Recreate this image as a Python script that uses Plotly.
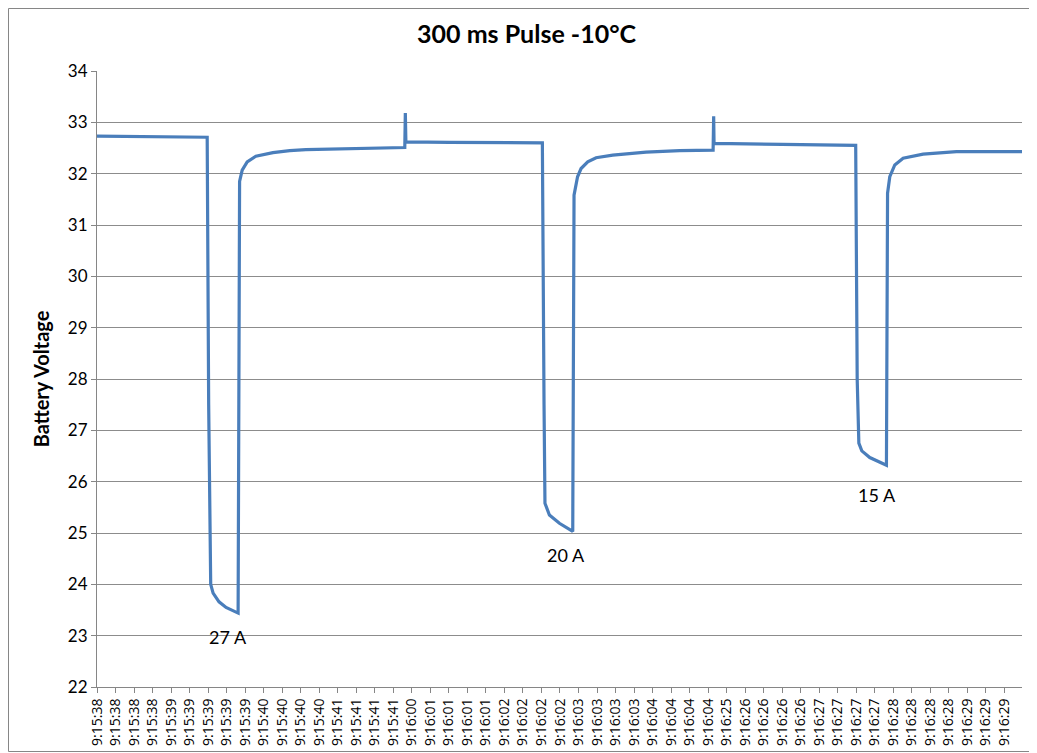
import plotly.graph_objects as go

# Category tick labels (every labelled category)
tick_labels = (["9:15:38"] * 4 + ["9:15:39"] * 5 + ["9:15:40"] * 4 + ["9:15:41"] * 4 +
               ["9:16:00"] + ["9:16:01"] * 4 + ["9:16:02"] * 4 + ["9:16:03"] * 4 + ["9:16:04"] * 4 +
               ["9:16:25"] + ["9:16:26"] * 4 + ["9:16:27"] * 4 + ["9:16:28"] * 4 + ["9:16:29"] * 3)

# Sample positions (in label-slot units) and battery voltage
sample_pos = [0.0, 2.81, 5.95, 6.03, 6.14, 6.27, 6.59, 6.97, 7.62,
              7.70, 7.84, 8.11, 8.58, 9.50, 10.41, 11.28, 13.62, 16.62,
              16.65, 16.68, 19.03, 24.05,
              24.14, 24.19, 24.43, 24.97, 25.69,
              25.76, 25.95, 26.14, 26.50, 26.95, 27.85, 29.65, 31.46, 33.27,
              33.30, 33.32, 37.00, 40.97,
              41.05, 41.14, 41.30, 41.73, 42.63,
              42.69, 42.81, 43.08, 43.53, 44.61, 46.41, 49.95]
voltage = [32.73, 32.72, 32.71, 27.50, 24.00, 23.83, 23.66, 23.55, 23.44,
           31.85, 32.07, 32.23, 32.34, 32.41, 32.45, 32.47, 32.49, 32.51,
           33.18, 32.62, 32.61, 32.60,
           27.50, 25.58, 25.35, 25.19, 25.03,
           31.58, 31.94, 32.10, 32.23, 32.31, 32.36, 32.42, 32.45, 32.46,
           33.12, 32.59, 32.57, 32.55,
           28.00, 26.75, 26.60, 26.47, 26.32,
           31.62, 31.94, 32.17, 32.30, 32.38, 32.43, 32.43]

# Pulse current labels
pulse_text = ["27 A", "20 A", "15 A"]
pulse_x = [7.08, 25.35, 42.10]
pulse_y = [22.97, 24.57, 25.74]

FONT = "Lato, Open Sans, sans-serif"

fig = go.Figure()
fig.add_trace(go.Scatter(x=sample_pos, y=voltage, mode="lines",
                         line=dict(color="#4A7EBB", width=3.2), hoverinfo="skip",
                         showlegend=False))

for t, x, y in zip(pulse_text, pulse_x, pulse_y):
    fig.add_annotation(x=x, y=y, text=t, showarrow=False,
                       font=dict(family=FONT, size=18, color="#000000"))

fig.update_layout(
    width=1029, height=745,
    margin=dict(l=89, r=15, t=63, b=66),
    paper_bgcolor="white", plot_bgcolor="white",
    title=dict(text="<b>300 ms Pulse -10°C</b>", x=0.504, xanchor="center",
               y=0.965, yanchor="middle", yref="container",
               font=dict(family=FONT, size=25, color="#000000")),
    xaxis=dict(range=[0, 49.95], tickmode="array", tickvals=list(range(len(tick_labels))),
               ticktext=tick_labels, tickangle=-90, showgrid=False, zeroline=False,
               showline=True, linecolor="#868686", linewidth=1, ticks="outside", ticklen=5,
               tickcolor="#868686", automargin=False,
               tickfont=dict(family="Open Sans, sans-serif", size=14, color="#000000")),
    yaxis=dict(range=[22, 34], dtick=1, showgrid=True, gridcolor="#8C8C8C", gridwidth=1,
               zeroline=False, showline=True, linecolor="#868686", linewidth=1,
               ticks="outside", ticklen=5, tickcolor="#868686", automargin=False,
               tickfont=dict(family=FONT, size=17, color="#000000"),
               title=dict(text="<b>Battery Voltage</b>", standoff=12,
                          font=dict(family=FONT, size=20, color="#000000"))),
)

# Chart outer border
fig.add_shape(type="rect", xref="paper", yref="paper",
              x0=-88.5 / 925, x1=1.0 + 12.5 / 925, y0=-64.5 / 616, y1=1.0 + 62.5 / 616,
              line=dict(color="#868686", width=1), layer="below")

fig.write_html("out.html")
